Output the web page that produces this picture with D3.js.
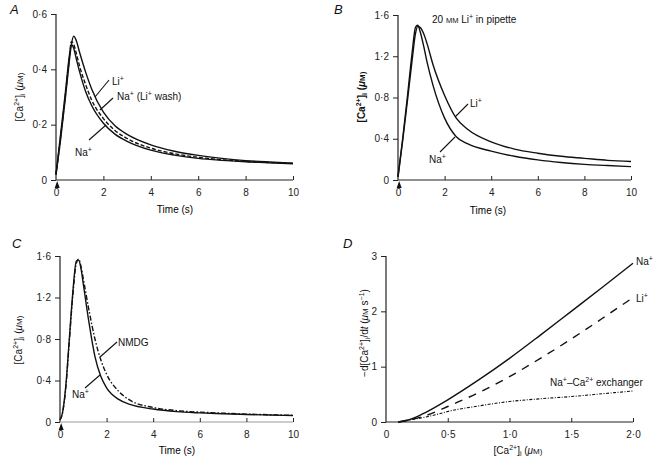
<!DOCTYPE html>
<html><head><meta charset="utf-8">
<script src="https://cdn.jsdelivr.net/npm/d3@7"></script>
<style>
body{margin:0;background:#fff;}
svg{font-family:"Liberation Sans",Arial,Helvetica,sans-serif;}
</style></head>
<body><svg id="c" width="655" height="461"></svg>
<script>
// ---------- DATA ----------
const timeA = [0,0.2,0.4,0.55,0.65,0.75,0.85,1,1.25,1.5,2,2.5,3,4,5,6,7,8,9,10];
const naA   = [0.02,0.17,0.32,0.44,0.49,0.475,0.44,0.39,0.32,0.27,0.205,0.165,0.14,0.108,0.09,0.078,0.071,0.066,0.062,0.059];
const washA = [0.02,0.16,0.31,0.43,0.50,0.49,0.46,0.41,0.345,0.29,0.222,0.178,0.15,0.115,0.095,0.082,0.073,0.067,0.063,0.06];
const liA   = [0.02,0.15,0.30,0.42,0.49,0.52,0.505,0.46,0.39,0.33,0.245,0.195,0.165,0.127,0.104,0.089,0.078,0.07,0.065,0.061];

const timeB = [0,0.2,0.4,0.6,0.75,0.85,0.95,1.1,1.25,1.5,2,2.5,3,4,5,6,7,8,9,10];
const naB   = [0.03,0.4,0.8,1.22,1.48,1.5,1.44,1.3,1.14,0.92,0.6,0.42,0.35,0.28,0.23,0.195,0.17,0.152,0.14,0.13];
const liB   = [0.03,0.38,0.76,1.15,1.42,1.49,1.48,1.42,1.32,1.12,0.82,0.6,0.49,0.37,0.3,0.26,0.23,0.21,0.19,0.18];

const timeC = [0,0.1,0.25,0.4,0.55,0.7,0.8,0.9,1,1.25,1.5,1.75,2,2.5,3,4,5,6,7,8,9,10];
const naC   = [0.02,0.08,0.35,0.8,1.25,1.55,1.56,1.48,1.33,0.95,0.63,0.44,0.33,0.22,0.17,0.125,0.1,0.088,0.08,0.073,0.067,0.062];
const nmdgC = [0.02,0.08,0.33,0.78,1.22,1.53,1.57,1.5,1.38,1.07,0.8,0.6,0.46,0.3,0.21,0.14,0.11,0.095,0.085,0.076,0.07,0.064];

const caD   = [0.1,0.2,0.3,0.4,0.5,0.75,1.0,1.25,1.5,1.75,2.0];
const naD   = [0,0.05,0.15,0.27,0.4,0.76,1.15,1.57,2.0,2.43,2.87];
const liD   = [0,0.04,0.1,0.18,0.28,0.53,0.82,1.15,1.5,1.87,2.25];
const exD   = [0,0.04,0.08,0.13,0.19,0.29,0.37,0.42,0.46,0.51,0.56];

const ticksTime = [0,2,4,6,8,10];
const ticksA = [0,0.2,0.4,0.6];
const ticksBC = [0,0.4,0.8,1.2,1.6];
const ticksDx = [0,0.5,1.0,1.5,2.0];
const ticksDy = [0,1,2,3];
const stimTime = 0.05;

// ---------- DRAW ----------
const svg = d3.select("#c");
const fmt = v => (v===0 ? "0" : d3.format(".1f")(v).replace(".", "\u00b7"));
const fmtInt = v => String(v);

function panel(o){
  const x = d3.scaleLinear().domain(o.xd).range(o.xr);
  const y = d3.scaleLinear().domain(o.yd).range(o.yr);
  const g = svg.append("g");
  // y axis
  const ya = d3.axisLeft(y).tickValues(o.yt).tickSize(5).tickPadding(4).tickFormat(o.yf||fmt);
  const gy = g.append("g").attr("transform",`translate(${o.xr[0]},0)`).call(ya);
  // x axis, ticks inward
  const xa = d3.axisBottom(x).tickValues(o.xt).tickSize(-4).tickPadding(9).tickFormat(o.xf||fmtInt);
  const gx = g.append("g").attr("transform",`translate(0,${o.yr[0]})`).call(xa);
  [gy,gx].forEach(a=>{
    a.select(".domain").attr("stroke","#222").attr("stroke-width",1.2);
    a.selectAll(".tick line").attr("stroke","#222").attr("stroke-width",1);
    a.selectAll(".tick text").attr("font-size",10).attr("fill","#222");
  });
  gx.select(".domain").attr("d",`M${o.xr[0]},0H${o.xr[1]}`);
  gy.select(".domain").attr("d",`M0,${o.yr[0]}V${o.yr[1]}`);
  if(o.xAxisColor) gx.select(".domain").attr("stroke",o.xAxisColor);
  gx.selectAll(".tick").filter(d=>d===0).select("line").remove();
  return {x,y,g};
}

function line(p, xs, ys, dash, w){
  const gen = d3.line().x(d=>p.x(d[0])).y(d=>p.y(d[1])).curve(d3.curveMonotoneX);
  p.g.append("path").datum(xs.map((t,i)=>[t,ys[i]]))
    .attr("d",gen).attr("fill","none").attr("stroke","#111")
    .attr("stroke-width",w||1.4).attr("stroke-dasharray",dash||null)
    .attr("stroke-linejoin","round");
}

function tri(p){
  const cx = p.x(stimTime), cy = p.y(0);
  p.g.append("path").attr("d",`M${cx},${cy+1}L${cx-2.5},${cy+8}L${cx+2.5},${cy+8}Z`).attr("fill","#111");
}

function leader(x1,y1,x2,y2){
  svg.append("line").attr("x1",x1).attr("y1",y1).attr("x2",x2).attr("y2",y2)
    .attr("stroke","#111").attr("stroke-width",1.1);
}

function label(x,y,parts,size,anchor){
  const t = svg.append("text").attr("x",x).attr("y",y).attr("font-size",size||10)
    .attr("fill","#111").attr("text-anchor",anchor||"start");
  parts.forEach(pt=>{
    const s = t.append("tspan").text(pt.t);
    if(pt.sup){ s.attr("font-size",(size||10)*0.7).attr("dy",-4); }
    if(pt.sub){ s.attr("font-size",(size||10)*0.7).attr("dy",3); }
    if(pt.back) s.attr("dy",pt.back);
    if(pt.it) s.attr("font-style","italic");
    if(pt.sc) s.attr("font-size",(size||10)*0.75);
  });
  return t;
}

function caLabel(x,y,rot,extra){
  const t = svg.append("text").attr("transform",`translate(${x},${y}) rotate(${rot})`)
    .attr("text-anchor","middle").attr("font-size",10).attr("fill","#111");
  if(extra) t.attr("font-weight","bold");
  t.append("tspan").text("[Ca");
  t.append("tspan").text("2+").attr("font-size",7).attr("dy",-4);
  t.append("tspan").text("]").attr("dy",4);
  t.append("tspan").text("i").attr("font-size",7).attr("dy",2);
  t.append("tspan").text(" (").attr("dy",-2);
  t.append("tspan").text("\u03bc").attr("font-style","italic");
  t.append("tspan").text("M)").attr("font-size",8);
  return t;
}

function letter(x,y,s){
  svg.append("text").attr("x",x).attr("y",y).attr("font-size",13).attr("font-style","italic").attr("fill","#111").text(s);
}

// Panel A
const pA = panel({xd:[0,10],xr:[56,293],yd:[0,0.6],yr:[180,14],xt:ticksTime,yt:ticksA});
line(pA,timeA,naA);
line(pA,timeA,washA,"4,2");
line(pA,timeA,liA);
tri(pA);
letter(10,14,"A");
caLabel(23,97,-90);
svg.append("text").attr("x",175).attr("y",213).attr("text-anchor","middle").attr("font-size",10).text("Time (s)");
leader(95,97,109,80);
label(112,85,[{t:"Li"},{t:"+",sup:true}]);
leader(100,110,113,98);
label(117,100,[{t:"Na"},{t:"+",sup:true},{t:" (Li",back:4},{t:"+",sup:true},{t:" wash)",back:4}]);
leader(89,140,106,125);
label(75,156,[{t:"Na"},{t:"+",sup:true}]);

// Panel B
const pB = panel({xd:[0,10],xr:[398,631],yd:[0,1.6],yr:[180,15],xt:ticksTime,yt:ticksBC});
line(pB,timeB,naB);
line(pB,timeB,liB);
tri(pB);
letter(334,14,"B");
caLabel(365,97,-90,true);
svg.append("text").attr("x",488).attr("y",214).attr("text-anchor","middle").attr("font-size",10).text("Time (s)");
label(432,23,[{t:"20 "},{t:"MM",sc:true},{t:" Li"},{t:"+",sup:true},{t:" in pipette",back:4}]);
leader(455,117,468,104);
label(470,107,[{t:"Li"},{t:"+",sup:true}]);
leader(440,152,455,137);
label(429,163,[{t:"Na"},{t:"+",sup:true}]);

// Panel C
const pC = panel({xd:[0,10],xr:[60,293],yd:[0,1.6],yr:[422,256],xt:ticksTime,yt:ticksBC,xAxisColor:"#999"});
line(pC,timeC,naC);
line(pC,timeC,nmdgC,"5,2,1.5,2");
tri(pC);
letter(12,248,"C");
caLabel(22,340,-90);
svg.append("text").attr("x",177).attr("y",454).attr("text-anchor","middle").attr("font-size",10).text("Time (s)");
leader(100,357,117,342);
label(118,346,[{t:"NMDG"}]);
leader(85,388,100,375);
label(72,398,[{t:"Na"},{t:"+",sup:true}]);

// Panel D
const pD = panel({xd:[0,2],xr:[386,633],yd:[0,3],yr:[422,256],xt:ticksDx,yt:ticksDy,xf:fmt,yf:fmtInt});
line(pD,caD,naD);
line(pD,caD,liD,"8,7");
line(pD,caD,exD,"3,1.5,1,1.5",1.1);
letter(343,248,"D");
{
  const t = svg.append("text").attr("transform",`translate(368,333) rotate(-90)`)
    .attr("text-anchor","middle").attr("font-size",10).attr("fill","#111");
  t.append("tspan").text("\u2212d[Ca");
  t.append("tspan").text("2+").attr("font-size",7).attr("dy",-4);
  t.append("tspan").text("]").attr("dy",4);
  t.append("tspan").text("i").attr("font-size",7).attr("dy",2);
  t.append("tspan").text("/d").attr("dy",-2);
  t.append("tspan").text("t").attr("font-style","italic");
  t.append("tspan").text(" (");
  t.append("tspan").text("\u03bc").attr("font-style","italic");
  t.append("tspan").text("M").attr("font-size",8);
  t.append("tspan").text(" s");
  t.append("tspan").text("\u22121").attr("font-size",7).attr("dy",-4);
  t.append("tspan").text(")").attr("dy",4);
}
{
  const t = svg.append("text").attr("transform",`translate(518,454)`)
    .attr("text-anchor","middle").attr("font-size",10).attr("fill","#111");
  t.append("tspan").text("[Ca");
  t.append("tspan").text("2+").attr("font-size",7).attr("dy",-4);
  t.append("tspan").text("]").attr("dy",4);
  t.append("tspan").text("i").attr("font-size",7).attr("dy",2);
  t.append("tspan").text(" (").attr("dy",-2);
  t.append("tspan").text("\u03bc").attr("font-style","italic");
  t.append("tspan").text("M)").attr("font-size",8);
}
label(636,265,[{t:"Na"},{t:"+",sup:true}]);
label(636,302,[{t:"Li"},{t:"+",sup:true}]);
label(550,386,[{t:"Na"},{t:"+",sup:true},{t:"\u2013Ca",back:4},{t:"2+",sup:true},{t:" exchanger",back:4}]);
</script></body></html>
